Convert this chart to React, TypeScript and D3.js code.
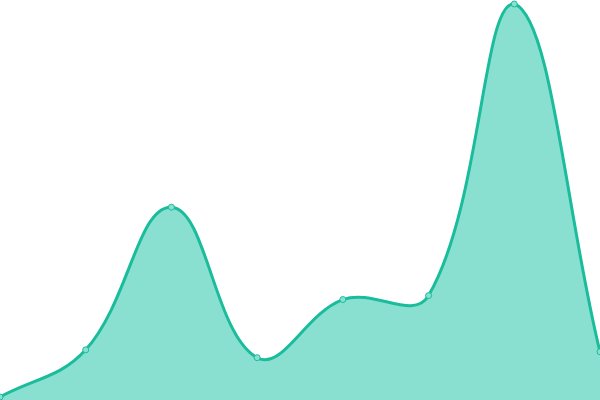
import React from "react";
import * as d3 from "d3";

const W = 600;
const H = 400;

const categories = ["A", "B", "C", "D", "E", "F", "G", "H"];
const values = [0, 12, 48.3, 10, 24.8, 25.8, 100, 11.5];

const TENSION = 0.4;

type P = [number, number];

function splinePath(pts: P[], closeToBottom: boolean): string {
  const n = pts.length;
  const cps = pts.map((cur, i) => {
    const prev = pts[i - 1] ?? cur;
    const next = pts[i + 1] ?? cur;
    const d01 = Math.hypot(cur[0] - prev[0], cur[1] - prev[1]);
    const d12 = Math.hypot(next[0] - cur[0], next[1] - cur[1]);
    let s01 = d01 / (d01 + d12);
    let s12 = d12 / (d01 + d12);
    s01 = isNaN(s01) ? 0 : s01;
    s12 = isNaN(s12) ? 0 : s12;
    const fa = TENSION * s01;
    const fb = TENSION * s12;
    const clampX = (v: number) => Math.max(0, Math.min(W, v));
    const clampY = (v: number) => Math.max(0, Math.min(H, v));
    const c1: P = [
      clampX(cur[0] - fa * (next[0] - prev[0])),
      clampY(cur[1] - fa * (next[1] - prev[1])),
    ];
    const c2: P = [
      clampX(cur[0] + fb * (next[0] - prev[0])),
      clampY(cur[1] + fb * (next[1] - prev[1])),
    ];
    return { c1, c2 };
  });
  const p = d3.path();
  p.moveTo(pts[0][0], pts[0][1]);
  for (let i = 1; i < n; i++) {
    const a = cps[i - 1].c2;
    const b = cps[i].c1;
    p.bezierCurveTo(a[0], a[1], b[0], b[1], pts[i][0], pts[i][1]);
  }
  if (closeToBottom) {
    p.lineTo(pts[n - 1][0], H);
    p.lineTo(pts[0][0], H);
    p.closePath();
  }
  return p.toString();
}

export default function App() {
  const x = d3.scalePoint<string>().domain(categories).range([0, W]);
  const y = d3.scaleLinear().domain([0, 100]).range([397, 4]);

  const pts: P[] = categories.map((c, i) => [x(c)!, y(values[i])]);

  return (
    <svg
      width={W}
      height={H}
      style={{ position: "fixed", top: 0, left: 0, display: "block" }}
    >
      <path d={splinePath(pts, true)} fill="#8ae0d0" stroke="none" />
      <path
        d={splinePath(pts, false)}
        fill="none"
        stroke="#1abc9c"
        strokeWidth={3}
      />
      {pts.map((pt, i) => (
        <circle
          key={categories[i]}
          cx={pt[0]}
          cy={pt[1]}
          r={3}
          fill="#8ae0d0"
          stroke="#1abc9c"
          strokeWidth={1}
        />
      ))}
    </svg>
  );
}
